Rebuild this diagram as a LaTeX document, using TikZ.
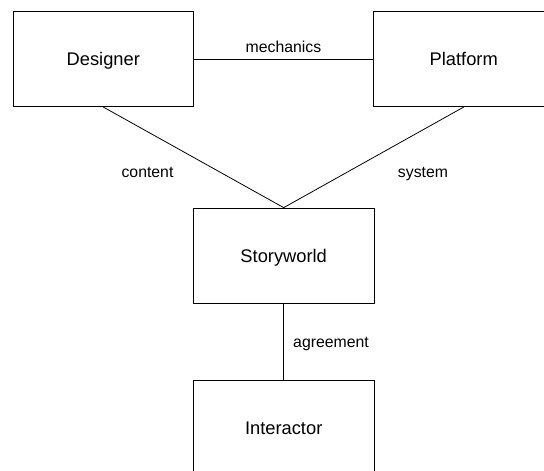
\documentclass[tikz,border=0pt]{standalone}
\usepackage{fontspec}
\setmainfont{Liberation Sans}
\usepackage{tikz}

\begin{document}
\begin{tikzpicture}[x=1pt,y=1pt,
  box/.style={draw,line width=0.8pt,minimum width=180.7pt,minimum height=95.3pt,inner sep=0pt,text height=13.1pt,text depth=0pt,font=\fontsize{18.3}{22}\selectfont},
  lbl/.style={inner sep=0pt,text height=11.3pt,text depth=0pt,font=\fontsize{15.8}{19}\selectfont}]
\useasboundingbox (0,0) rectangle (544,471);
\clip (0,0) rectangle (544,471);

\node[box] (designer) at (103.3,412) {Designer};
\node[box] (platform) at (463.7,412) {Platform};
\node[box] (story) at (283.7,215.3) {Storyworld};
\node[box] (interactor) at (283.7,43) {Interactor};

\draw[line width=0.8pt] (designer.east) -- (platform.west);
\draw[line width=0.8pt] (designer.south) -- (story.north);
\draw[line width=0.8pt] (platform.south) -- (story.north);
\draw[line width=0.8pt] (story.south) -- (interactor.north);

\node[lbl] (mech) at (283.5,424.3) {mechanics};
\node[lbl] (cont) at (147.5,299) {content};
\node[lbl] (syst) at (423,299) {system};
\node[lbl] (agree) at (331,129.3) {agreement};

\end{tikzpicture}
\end{document}
